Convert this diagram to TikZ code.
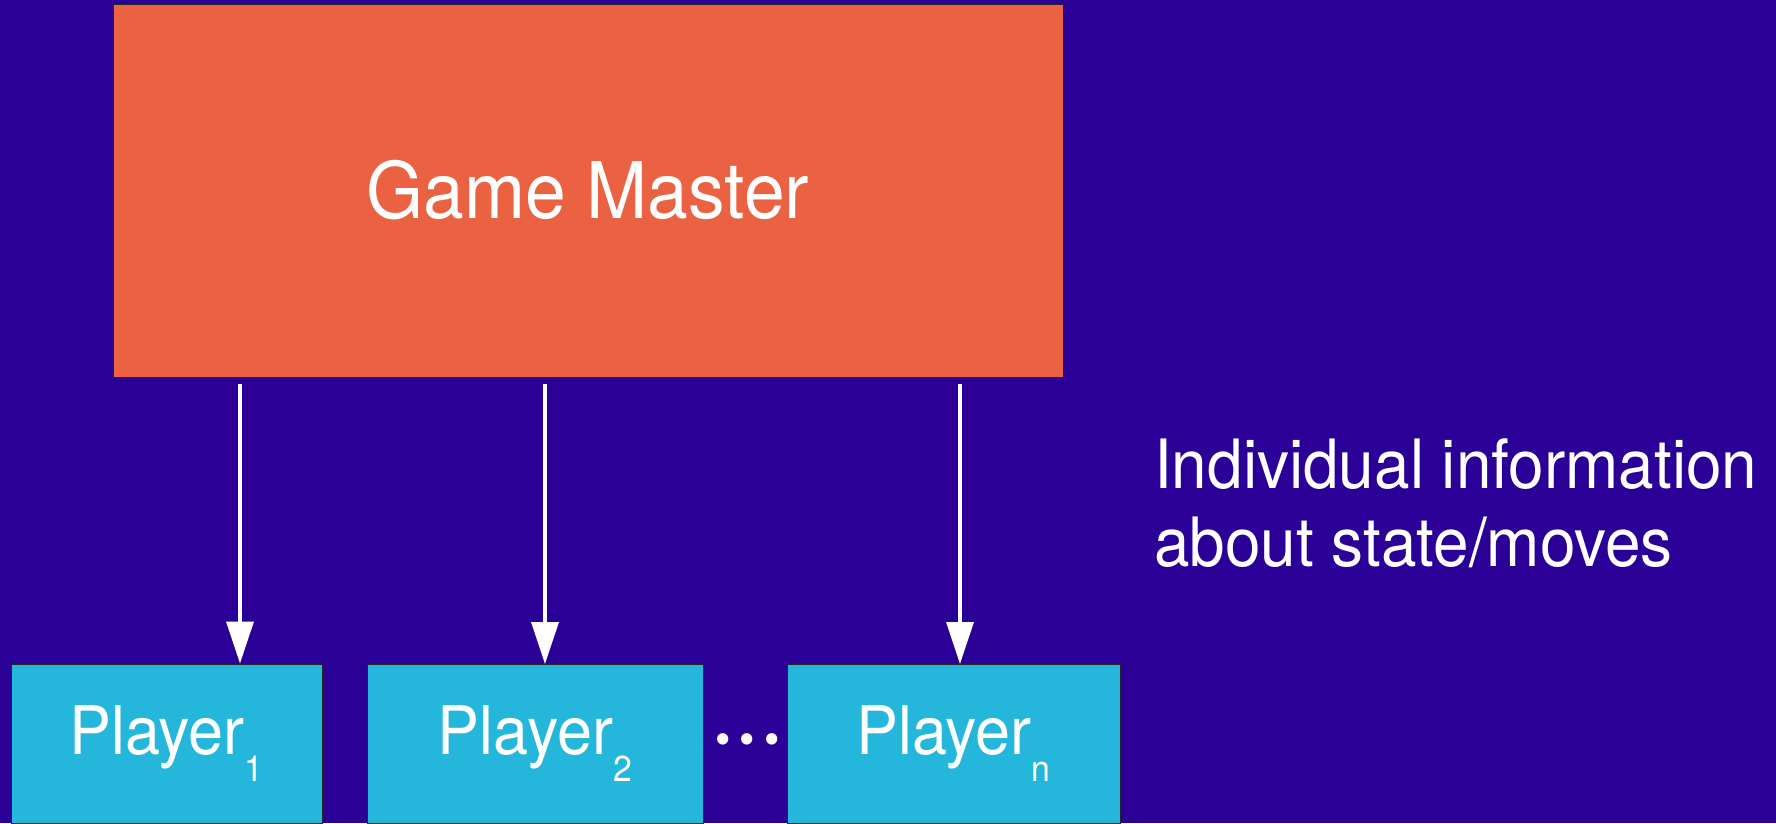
\documentclass[tikz,border=0pt]{standalone}
\usepackage{fontspec}
\setmainfont{TeX Gyre Heros}[FakeStretch=0.94]
\newfontfamily\dotfont{Poppins}
\usetikzlibrary{arrows.meta}
\definecolor{bgblue}{RGB}{43,0,150}
\definecolor{gmorange}{RGB}{234,98,65}
\definecolor{plcyan}{RGB}{37,183,219}
\tikzset{
  gmbox/.style={draw=black!85, line width=1pt, fill=gmorange, inner sep=0pt, text=white,
    minimum width=950pt, minimum height=373pt, font=\fontsize{78}{90}\selectfont},
  plbox/.style={draw=black!85, line width=1pt, fill=plcyan, inner sep=0pt, text=white,
    minimum height=159pt, font=\fontsize{67}{80}\selectfont},
  arr/.style={draw=white, line width=3.6pt, -{Triangle[length=42pt,width=27pt]}},
  lbl/.style={text=white, inner sep=0pt, align=left, font=\fontsize{68}{78}\selectfont},
}
\newcommand{\plsub}[1]{\raisebox{-27pt}{\fontsize{36}{40}\selectfont #1}}
\begin{document}
\begin{tikzpicture}[x=1pt,y=-1pt]
  \fill[bgblue] (0,0) rectangle (1776,823);
  \useasboundingbox (0,0) rectangle (1776,823);
  \node[gmbox] (gm) at (588,190.5) {Game Master};
  \node[plbox, minimum width=311pt] (p1) at (166.5,743.5) {Player\plsub{1}};
  \node[plbox, minimum width=336pt] (p2) at (535,744) {Player\plsub{2}};
  \node[plbox, minimum width=333pt] (pn) at (953.5,744) {Player\plsub{n}};
  \node[text=white, inner sep=0pt, anchor=base, font=\dotfont\fontsize{92}{92}\selectfont] (dots) at (747.5,744.5) {.\kern5pt.\kern5pt.};
  \coordinate (s1) at (240,384);
  \coordinate (s2) at (545,384);
  \coordinate (s3) at (960,384);
  \draw[arr] (s1) -- (s1 |- p1.north);
  \draw[arr] (s2) -- (s2 |- p2.north);
  \draw[arr] (s3) -- (s3 |- pn.north);
  \node[lbl, anchor=north west] (info) at (1154,438.5) {Individual information\\about state/moves};
\end{tikzpicture}
\end{document}
